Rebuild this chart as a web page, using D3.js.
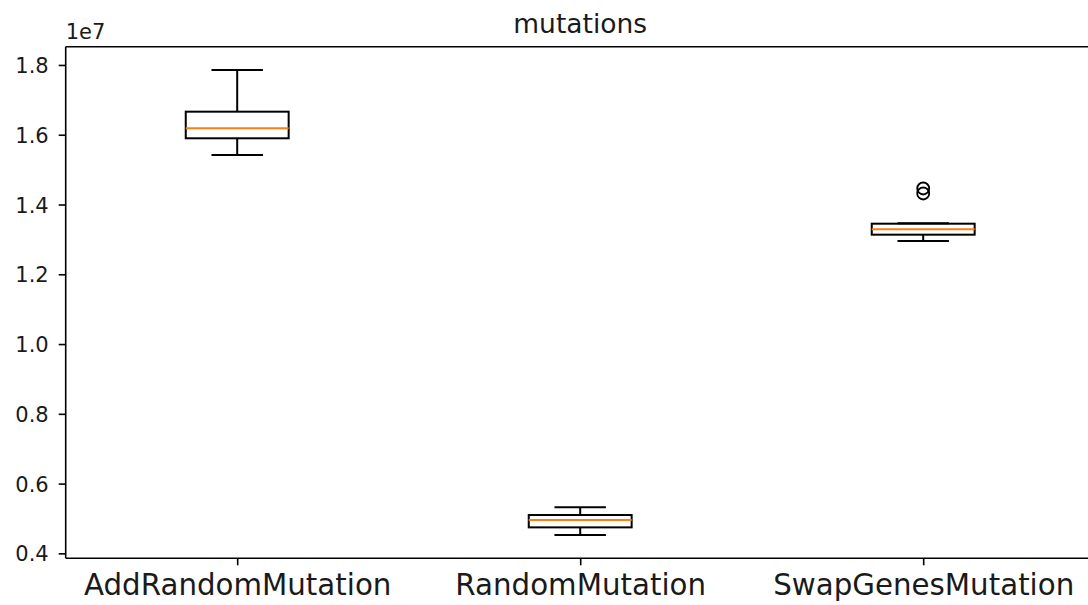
<!DOCTYPE html>
<html>
<head>
<meta charset="utf-8">
<script src="https://cdn.jsdelivr.net/npm/d3@7"></script>
<style>
  html, body { margin: 0; padding: 0; background: #fff; }
  svg { display: block; font-family: "DejaVu Sans", sans-serif; }
</style>
</head>
<body>
<svg id="chart" width="1088" height="605"></svg>
<script>
// ---- data (raw values, axis shown in units of 1e7) ----
const categories  = ["AddRandomMutation", "RandomMutation", "SwapGenesMutation"];
const whiskerLow  = [15420000, 4525000, 12954000];
const q1          = [15898000, 4745000, 13135000];
const medians     = [16185000, 4955000, 13292000];
const q3          = [16661000, 5099000, 13450000];
const whiskerHigh = [17857000, 5320000, 13465000];
const outliers    = [[], [], [14459000, 14316000]];
const yTicks      = [0.4e7, 0.6e7, 0.8e7, 1.0e7, 1.2e7, 1.4e7, 1.6e7, 1.8e7];
const chartTitle  = "mutations";
const offsetLabel = "1e7";

// ---- layout ----
const svg = d3.select("#chart");
const plotLeft = 65.7, plotTop = 46.7, plotBottom = 558.3;
const step = 343;
const plotRight = plotLeft + 3 * step;

const allVals = whiskerLow.concat(whiskerHigh, outliers.flat());
const dMin = d3.min(allVals), dMax = d3.max(allVals);
const pad = (dMax - dMin) * 0.05;

const x = d3.scaleLinear().domain([0.5, 3.5]).range([plotLeft, plotRight]);
const y = d3.scaleLinear().domain([dMin - pad, dMax + pad]).range([plotBottom, plotTop]);

const boxW = 0.3, capW = 0.15;
const lw = 2;

// boxes
const g = svg.append("g");
categories.forEach((c, i) => {
  const pos = i + 1;
  const bx0 = x(pos - boxW / 2), bx1 = x(pos + boxW / 2);
  const cx0 = x(pos - capW / 2), cx1 = x(pos + capW / 2);
  const cxm = x(pos);
  g.append("line").attr("x1", cxm).attr("x2", cxm).attr("y1", y(q1[i])).attr("y2", y(whiskerLow[i]))
    .attr("stroke", "#000").attr("stroke-width", lw);
  g.append("line").attr("x1", cxm).attr("x2", cxm).attr("y1", y(q3[i])).attr("y2", y(whiskerHigh[i]))
    .attr("stroke", "#000").attr("stroke-width", lw);
  g.append("line").attr("x1", cx0).attr("x2", cx1).attr("y1", y(whiskerLow[i])).attr("y2", y(whiskerLow[i]))
    .attr("stroke", "#000").attr("stroke-width", lw);
  g.append("line").attr("x1", cx0).attr("x2", cx1).attr("y1", y(whiskerHigh[i])).attr("y2", y(whiskerHigh[i]))
    .attr("stroke", "#000").attr("stroke-width", lw);
  g.append("rect").attr("x", bx0).attr("y", y(q3[i])).attr("width", bx1 - bx0)
    .attr("height", y(q1[i]) - y(q3[i]))
    .attr("fill", "none").attr("stroke", "#000").attr("stroke-width", lw);
  g.append("line").attr("x1", bx0).attr("x2", bx1).attr("y1", y(medians[i])).attr("y2", y(medians[i]))
    .attr("stroke", "#ff7f0e").attr("stroke-width", lw);
  outliers[i].forEach(v => {
    g.append("circle").attr("cx", cxm).attr("cy", y(v)).attr("r", 6)
      .attr("fill", "none").attr("stroke", "#000").attr("stroke-width", 1.8);
  });
});

// spines
const spine = svg.append("g").attr("stroke", "#000").attr("stroke-width", 1.6).attr("fill", "none");
spine.append("line").attr("x1", plotLeft).attr("x2", plotLeft).attr("y1", plotTop).attr("y2", plotBottom);
spine.append("line").attr("x1", plotLeft).attr("x2", plotRight).attr("y1", plotBottom).attr("y2", plotBottom);
spine.append("line").attr("x1", plotLeft).attr("x2", plotRight).attr("y1", plotTop).attr("y2", plotTop);
spine.append("line").attr("x1", plotRight).attr("x2", plotRight).attr("y1", plotTop).attr("y2", plotBottom);

// y axis
const yAxis = d3.axisLeft(y).tickValues(yTicks).tickSize(7).tickPadding(10)
  .tickFormat(v => (v / 1e7).toFixed(1));
const ya = svg.append("g").attr("transform", `translate(${plotLeft},0)`).call(yAxis);
ya.select(".domain").remove();
ya.selectAll(".tick line").attr("stroke", "#000").attr("stroke-width", 1.6);
ya.selectAll(".tick text").attr("fill", "#1a1a1a").style("font-size", "21px")
  .style("font-family", "DejaVu Sans").attr("dy", "0.36em");

// x axis
const xAxis = d3.axisBottom(x).tickValues([1, 2, 3]).tickSize(7).tickPadding(9)
  .tickFormat((d, i) => categories[i]);
const xa = svg.append("g").attr("transform", `translate(0,${plotBottom})`).call(xAxis);
xa.select(".domain").remove();
xa.selectAll(".tick line").attr("stroke", "#000").attr("stroke-width", 1.6);
xa.selectAll(".tick text").attr("fill", "#1a1a1a").style("font-size", "29.3px")
  .style("font-family", "DejaVu Sans").attr("dy", "0.72em");

// title
svg.append("text").attr("x", (plotLeft + plotRight) / 2).attr("y", 33).attr("text-anchor", "middle")
  .style("font-size", "26.5px").attr("fill", "#1a1a1a").text(chartTitle);

// offset text
svg.append("text").attr("x", plotLeft).attr("y", 39).attr("text-anchor", "start")
  .style("font-size", "21px").attr("fill", "#1a1a1a").text(offsetLabel);
</script>
</body>
</html>
